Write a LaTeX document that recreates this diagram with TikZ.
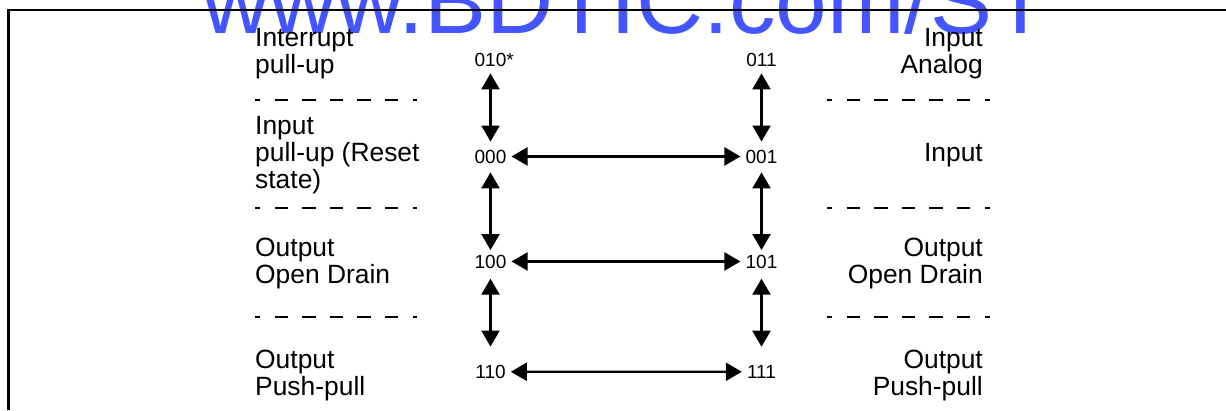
\documentclass[tikz,border=0pt]{standalone}
\usepackage{fontspec}
\setmainfont{Liberation Sans}
\usetikzlibrary{arrows.meta}

\definecolor{markblue}{RGB}{68,85,255}

\begin{document}
\begin{tikzpicture}[
      x = 1pt, y = -1pt, % one unit per pixel, y going down
      mode/.style = {font=\fontsize{26.4}{27}\selectfont, inner sep=0pt},
      code/.style = {font=\fontsize{19}{20}\selectfont, inner xsep=5pt, inner ysep=8pt},
      sep/.style = {line width=2pt, dash pattern=on 13.3pt off 14.3pt, dash phase=8pt},
      link/.style = {line width=2.2pt, {Triangle[length=16pt,width=18pt]}-{Triangle[length=16pt,width=18pt]}}
  ]

\useasboundingbox (0,0) rectangle (1226,410);

% watermark
\node[anchor=base west, inner sep=0pt, text=markblue, font=\fontsize{93}{93}\selectfont] (mark) at (202,33) {www.BDTIC.com/ST};

% frame
\draw[line width=2.2pt] (1226,10) -- (8.5,10) -- (8.5,410);

% mode codes
\foreach \name/\coord/\txt in {
    b010/{490.5,66.7}/{010\rlap{*}},
    b000/{490.5,163}/{000},
    b100/{490.5,268}/{100},
    b110/{490.5,378.3}/{110},
    b011/{761.5,66.7}/{011},
    b001/{761.5,163}/{001},
    b101/{761.5,268}/{101},
    b111/{761.5,378.3}/{111}
}{
    \node[code, anchor=base] (\name) at (\coord) {\txt};
}

% mode names (base = last line)
\node[mode, align=left, anchor=base west] (intL) at (255,73) {Interrupt\\pull-up};
\node[mode, align=left, anchor=base west] (inL) at (255,188) {Input\\pull-up (Reset\\state)};
\node[mode, align=left, anchor=base west] (odL) at (255,283.3) {Output\\Open Drain};
\node[mode, align=left, anchor=base west] (ppL) at (255,395) {Output\\Push-pull};
\node[mode, align=right, anchor=base east] (anR) at (983,73) {Input\\Analog};
\node[mode, align=right, anchor=base east] (inR) at (983,161.7) {Input};
\node[mode, align=right, anchor=base east] (odR) at (983,283.3) {Output\\Open Drain};
\node[mode, align=right, anchor=base east] (ppR) at (983,395) {Output\\Push-pull};

% separators
\foreach \y in {100,208,317}{
    \draw[sep] (255,\y) -- (417,\y);
    \draw[sep] (827,\y) -- (990,\y);
}

% transitions
\foreach \a/\b/\sa/\sb in {
    b010/b000/-1.7/0,
    b000/b100/1/-3.5,
    b100/b110/2.3/10.3,
    b011/b001/-1.7/0,
    b001/b101/1/-3.5,
    b101/b111/2.3/10.3,
    b000/b001/0/0,
    b100/b101/0/0,
    b110/b111/0/0
}{
    \draw[link, shorten <=\sa pt, shorten >=\sb pt] (\a) -- (\b);
}

\end{tikzpicture}
\end{document}
